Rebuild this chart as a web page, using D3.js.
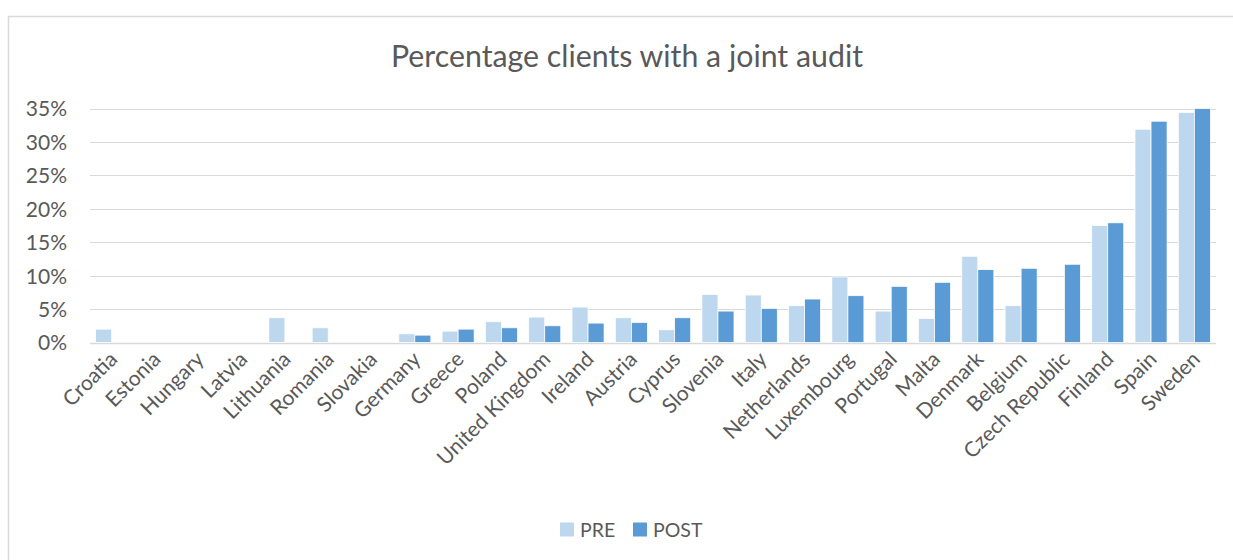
<!DOCTYPE html>
<html>
<head>
<meta charset="utf-8">
<script src="https://cdn.jsdelivr.net/npm/d3@7"></script>
<style>
  html, body { margin: 0; padding: 0; background: #fff; }
  svg { display: block; }
  text { font-family: Lato, "Open Sans", sans-serif; fill: #595959; }
</style>
</head>
<body>
<svg id="chart" width="1233" height="560"></svg>
<script>
const categories = ["Croatia","Estonia","Hungary","Latvia","Lithuania","Romania","Slovakia","Germany","Greece","Poland","United Kingdom","Ireland","Austria","Cyprus","Slovenia","Italy","Netherlands","Luxembourg","Portugal","Malta","Denmark","Belgium","Czech Republic","Finland","Spain","Sweden"];
const preValues  = [2.0, 0, 0, 0, 3.7, 2.2, 0, 1.3, 1.7, 3.1, 3.8, 5.3, 3.7, 1.9, 7.2, 7.1, 5.5, 9.8, 4.7, 3.6, 12.9, 5.5, 0, 17.5, 31.9, 34.4];
const postValues = [0, 0, 0, 0, 0, 0, 0, 1.1, 2.0, 2.2, 2.5, 2.9, 3.0, 3.7, 4.7, 5.1, 6.5, 7.0, 8.4, 9.0, 10.9, 11.1, 11.7, 17.9, 33.1, 35.0];
const seriesNames = ["PRE", "POST"];
const seriesColors = ["#BDD7EE", "#5B9BD5"];
const yTicks = [0, 5, 10, 15, 20, 25, 30, 35];
const title = "Percentage clients with a joint audit";

const svg = d3.select("#chart");

// chart border
svg.append("rect")
  .attr("x", 8.5).attr("y", 16.5)
  .attr("width", 1300).attr("height", 700)
  .attr("fill", "#fff").attr("stroke", "#D9D9D9").attr("stroke-width", 1.5);

const plot = { left: 90, right: 1216, top: 108.5, bottom: 342.5 };

const x = d3.scaleBand().domain(categories).range([plot.left, plot.right]).paddingInner(0.26).paddingOuter(0.13);
const xs = d3.scaleBand().domain(seriesNames).range([0, x.bandwidth()]);
const y = d3.scaleLinear().domain([0, 35]).range([plot.bottom, plot.top]);

// gridlines
svg.append("g").selectAll("line").data(yTicks).join("line")
  .attr("x1", plot.left).attr("x2", plot.right)
  .attr("y1", d => Math.round(y(d)) + 0.5).attr("y2", d => Math.round(y(d)) + 0.5)
  .attr("stroke", "#D9D9D9").attr("stroke-width", d => d === 0 ? 1.5 : 1.2);

// y axis labels
const yAxis = d3.axisLeft(y).tickValues(yTicks).tickFormat(d => d + "%").tickSize(0).tickPadding(0);
const yg = svg.append("g").attr("transform", `translate(${plot.left - 23},0)`).call(yAxis);
yg.select(".domain").remove();
yg.selectAll("text").attr("font-size", 21).attr("fill", "#595959").attr("font-family", "Lato, sans-serif").attr("dy", "0.35em");

// bars
const data = categories.map((c, i) => ({ c, vals: [preValues[i], postValues[i]] }));
const groups = svg.append("g").selectAll("g").data(data).join("g")
  .attr("transform", d => `translate(${x(d.c)},0)`);
groups.selectAll("rect").data(d => d.vals.map((v, j) => ({ v, s: seriesNames[j], j })))
  .join("rect")
  .attr("x", d => xs(d.s))
  .attr("width", xs.bandwidth())
  .attr("y", d => y(d.v))
  .attr("height", d => y(0) - y(d.v))
  .attr("fill", d => seriesColors[d.j])
  .attr("stroke", "#fff").attr("stroke-width", d => d.v > 0 ? 0.75 : 0);

// x axis labels
const xAxis = d3.axisBottom(x).tickSize(0).tickPadding(0);
const xg = svg.append("g").attr("transform", `translate(0,${plot.bottom})`).call(xAxis);
xg.select(".domain").remove();
xg.selectAll("text")
  .attr("font-size", 21).attr("fill", "#595959").attr("font-family", "Lato, sans-serif")
  .attr("text-anchor", "end")
  .attr("y", 0).attr("dy", "0")
  .attr("transform", "translate(7,18) rotate(-45)");

// title
svg.append("text")
  .attr("x", 627).attr("y", 66.5)
  .attr("text-anchor", "middle")
  .attr("font-size", 30.3)
  .text(title);

// legend
const legend = svg.append("g").attr("transform", "translate(560,522.5)");
const legendItems = [{ name: seriesNames[0], color: seriesColors[0], x: 0 }, { name: seriesNames[1], color: seriesColors[1], x: 73 }];
const li = legend.selectAll("g").data(legendItems).join("g").attr("transform", d => `translate(${d.x},0)`);
li.append("rect").attr("width", 14).attr("height", 14).attr("fill", d => d.color);
li.append("text").attr("x", 20).attr("y", 14).attr("font-size", 19.5).text(d => d.name);
</script>
</body>
</html>
